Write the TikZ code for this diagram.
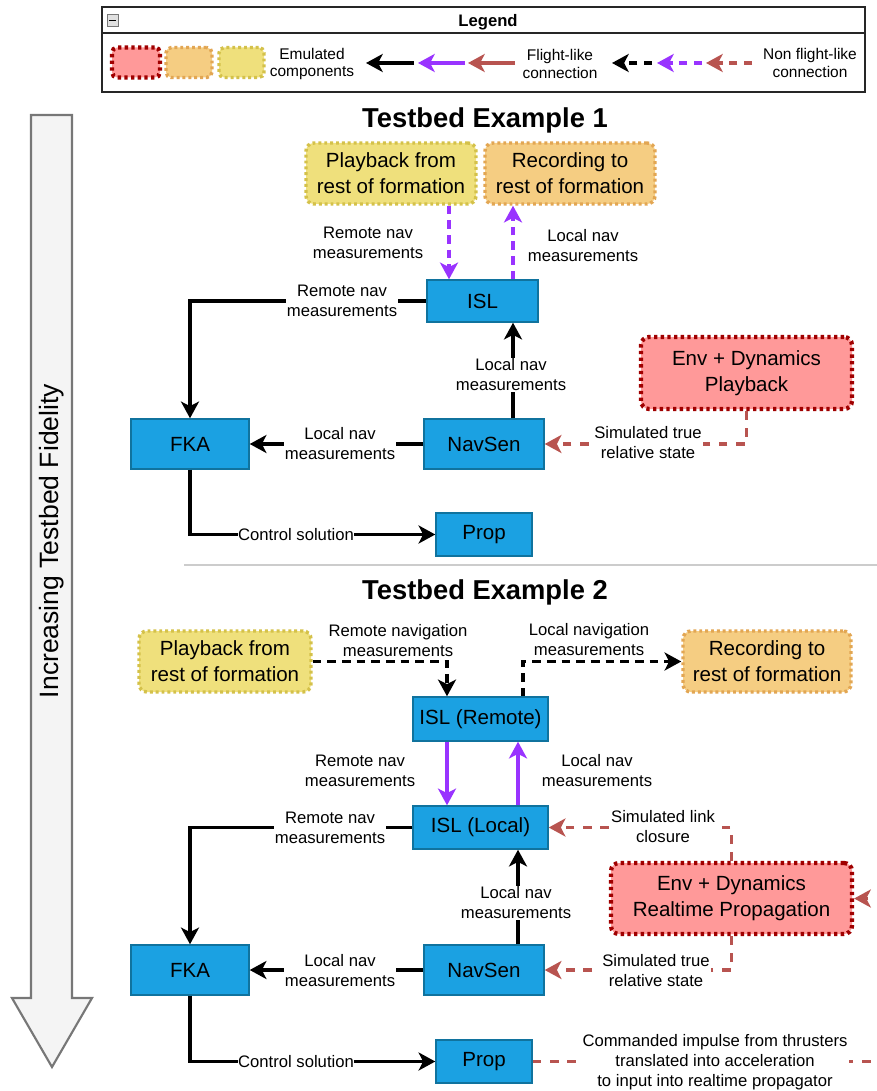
\documentclass[tikz,border=0pt]{standalone}
\usepackage{fontspec}
\setmainfont{Liberation Sans}
\usetikzlibrary{arrows.meta}

\definecolor{cBlue}{HTML}{1BA1E2}
\definecolor{cBlueLine}{HTML}{10739E}
\definecolor{cRed}{HTML}{FF9999}
\definecolor{cRedLine}{HTML}{A00000}
\definecolor{cOrange}{HTML}{F5CD82}
\definecolor{cOrangeLine}{HTML}{E2A653}
\definecolor{cYellow}{HTML}{EFE07C}
\definecolor{cYellowLine}{HTML}{D4C14A}
\definecolor{cPurple}{HTML}{9933FF}
\definecolor{cBrown}{HTML}{B85450}
\definecolor{cGrayLine}{HTML}{777777}
\definecolor{cGrayFill}{HTML}{F4F4F4}
\definecolor{cRule}{HTML}{CCCCCC}

\begin{document}
\begin{tikzpicture}[x=0.75pt,y=-0.75pt,
  sz/.style 2 args={minimum width={#1*0.75pt},minimum height={#2*0.75pt}},
  comp/.style={draw=cBlueLine,fill=cBlue,line width=1.1pt,inner sep=0pt,align=center,
    font=\fontsize{15.4}{19.5}\selectfont},
  emul/.style={rounded corners=6pt,line width=2.6pt,dash pattern=on 2.2pt off 2.2pt,
    inner sep=0pt,align=center,font=\fontsize{15.4}{19.5}\selectfont},
  emuR/.style={emul,draw=cRedLine,fill=cRed,line width=3.2pt,dash pattern=on 2.5pt off 2.5pt},
  emuO/.style={emul,draw=cOrangeLine,fill=cOrange},
  emuY/.style={emul,draw=cYellowLine,fill=cYellow},
  lbl/.style={fill=white,inner sep=1pt,align=center,font=\fontsize{12.5}{15}\selectfont},
  lgd/.style={align=center,font=\fontsize{11.6}{12.8}\selectfont},
  head/.style={-{Stealth[length=12.5pt,width=13.5pt,inset=3.4pt]}},
  flk/.style={line width=2.6pt,head},
  blackline/.style={flk,draw=black},
  purpleline/.style={flk,draw=cPurple},
  brownline/.style={flk,draw=cBrown},
  blackdash/.style={blackline,dash pattern=on 6.5pt off 4.5pt},
  purpledash/.style={purpleline,dash pattern=on 6.5pt off 4.5pt},
  browndash/.style={brownline,dash pattern=on 6.5pt off 6.5pt},
  title/.style={font=\bfseries\fontsize{20.5}{24}\selectfont}
]
\useasboundingbox (0,0) rectangle (877,1091);
\clip (0,0) rectangle (877,1091);

% ---------- legend ----------
\node[draw=black!85,line width=1.1pt,fill=white,sz={763}{85}] (legend) at (483.5,49.5) {};
\coordinate (hdr) at (0,33);
\draw[black!85,line width=1.1pt] (legend.west |- hdr) -- (legend.east |- hdr);
\node[draw=cGrayLine,fill=black!12,line width=0.6pt,sz={11}{12},inner sep=0pt] (icon) at (112.5,20.5) {};
\draw[line width=1.3pt] ([xshift=-2.6pt]icon.center) -- ([xshift=2.6pt]icon.center);
\node[font=\bfseries\fontsize{12.5}{14}\selectfont] (lgdtitle) at (488,22) {Legend};

\node[emuR,sz={48}{30},rounded corners=4pt] (swR) at (136,62.5) {};
\node[emuO,sz={46}{30},rounded corners=4pt] (swO) at (189,62.5) {};
\node[emuY,sz={45}{30},rounded corners=4pt] (swY) at (241.5,62.5) {};
\node[lgd] (lgdemu) at (312,64) {Emulated\\components};

\coordinate (la1) at (414,63); \coordinate (la1t) at (366,63);
\coordinate (la2) at (465,63); \coordinate (la2t) at (418,63);
\coordinate (la3) at (515,63); \coordinate (la3t) at (468,63);
\draw[blackline] (la1) -- (la1t);
\draw[purpleline] (la2) -- (la2t);
\draw[brownline] (la3) -- (la3t);
\node[lgd] (lgdfl) at (560,64) {Flight-like\\connection};

\coordinate (lb1) at (652,63); \coordinate (lb1t) at (612,63);
\coordinate (lb2) at (702,63); \coordinate (lb2t) at (657,63);
\coordinate (lb3) at (752,63); \coordinate (lb3t) at (706,63);
\draw[blackline,dash pattern=on 6pt off 5pt] (lb1) -- (lb1t);
\draw[purpleline,dash pattern=on 6pt off 5pt] (lb2) -- (lb2t);
\draw[brownline,dash pattern=on 6pt off 5pt] (lb3) -- (lb3t);
\node[lgd] (lgdnfl) at (810,63) {Non flight-like\\connection};

% ---------- fidelity arrow ----------
\draw[draw=cGrayLine,fill=cGrayFill,line width=1.6pt,line join=miter]
  (31,115) -- (72,115) -- (72,998) -- (92,998) -- (52,1067) -- (12,998) -- (31,998) -- cycle;
\node[rotate=90,font=\fontsize{19.9}{22}\selectfont] (fidelity) at (52,541) {Increasing Testbed Fidelity};

% separator between the two examples
\draw[cRule,line width=2.2pt] (184,565) -- (877,565);

% ---------- testbed example 1 ----------
\node[title] (t1) at (485,120) {Testbed Example 1};
\node[emuY,sz={170}{61}] (pb1) at (391,173.5) {Playback from\\rest of formation};
\node[emuO,sz={170}{61}] (rec1) at (570,173.5) {Recording to\\rest of formation};
\node[comp,sz={111}{42}] (isl1) at (482.5,301) {ISL};
\node[emuR,sz={211}{72}] (env1) at (746.5,373) {Env + Dynamics\\Playback};
\node[comp,sz={118}{50}] (fka1) at (190,444) {FKA};
\node[comp,sz={120}{50}] (nav1) at (484,444) {NavSen};
\node[comp,sz={96}{43}] (prop1) at (484,534.5) {Prop};

\coordinate (xa) at (449,0);
\coordinate (xb) at (513,0);
\draw[purpledash] (pb1.south -| xa) -- (isl1.north -| xa);
\draw[purpledash] (isl1.north -| xb) -- (rec1.south -| xb);
\draw[blackline] (isl1.west) -| (fka1.north);
\draw[blackline] (nav1.north -| xb) -- (isl1.south -| xb);
\draw[blackline] (nav1.west) -- (fka1.east);
\draw[blackline] (fka1.south) |- (prop1.west);
\draw[browndash] (env1.south) |- (nav1.east);

\node[lbl] (l1a) at (368,243) {Remote nav\\measurements};
\node[lbl] (l1b) at (583,246) {Local nav\\measurements};
\node[lbl] (l1c) at (342,301) {Remote nav\\measurements};
\node[lbl] (l1d) at (511,375) {Local nav\\measurements};
\node[lbl] (l1e) at (340,444) {Local nav\\measurements};
\node[lbl,inner sep=0pt] (l1f) at (296,535) {Control solution};
\node[lbl] (l1g) at (648,443) {Simulated true\\relative state};

% ---------- testbed example 2 ----------
\node[title] (t2) at (485,592) {Testbed Example 2};
\node[emuY,sz={172}{61}] (pb2) at (225,661.5) {Playback from\\rest of formation};
\node[emuO,sz={168}{61}] (rec2) at (767,661.5) {Recording to\\rest of formation};
\node[comp,sz={135}{44}] (islr) at (480.5,719) {ISL (Remote)};
\node[comp,sz={135}{43}] (isll) at (480.5,827.5) {ISL (Local)};
\node[emuR,sz={241}{71}] (env2) at (731.5,898.5) {Env + Dynamics\\Realtime Propagation};
\node[comp,sz={118}{50}] (fka2) at (190,970) {FKA};
\node[comp,sz={120}{50}] (nav2) at (484,970) {NavSen};
\node[comp,sz={96}{43}] (prop2) at (484,1061.5) {Prop};

\coordinate (xc) at (447,0);
\coordinate (xd) at (523,0);
\coordinate (xe) at (518,0);
\coordinate (xloop) at (905,0);
\draw[blackdash] (pb2.east) -| (islr.north -| xc);
\draw[blackdash] (islr.north -| xd) |- (rec2.west);
\draw[purpleline] (islr.south -| xc) -- (isll.north -| xc);
\draw[purpleline] (isll.north -| xe) -- (islr.south -| xe);
\draw[blackline] (isll.west) -| (fka2.north);
\draw[blackline] (nav2.north -| xe) -- (isll.south -| xe);
\draw[blackline] (nav2.west) -- (fka2.east);
\draw[blackline] (fka2.south) |- (prop2.west);
\draw[browndash] (env2.north) |- (isll.east);
\draw[browndash] (env2.south) |- (nav2.east);
\draw[browndash] (prop2.east) -| (xloop |- env2.east) -- (env2.east);

\node[lbl,fill=none] (l2a) at (398,641) {Remote navigation\\measurements};
\node[lbl,fill=none] (l2b) at (589,640) {Local navigation\\measurements};
\node[lbl] (l2c) at (360,771) {Remote nav\\measurements};
\node[lbl] (l2d) at (597,771) {Local nav\\measurements};
\node[lbl] (l2e) at (330,828) {Remote nav\\measurements};
\node[lbl] (l2f) at (516,903) {Local nav\\measurements};
\node[lbl] (l2g) at (340,971) {Local nav\\measurements};
\node[lbl,inner sep=0pt] (l2h) at (296,1062) {Control solution};
\node[lbl] (l2i) at (663,827) {Simulated link\\closure};
\node[lbl] (l2j) at (656,971) {Simulated true\\relative state};
\node[lbl] (l2k) at (715,1062) {Commanded impulse from thrusters\\translated into acceleration\\to input into realtime propagator};
\end{tikzpicture}
\end{document}
